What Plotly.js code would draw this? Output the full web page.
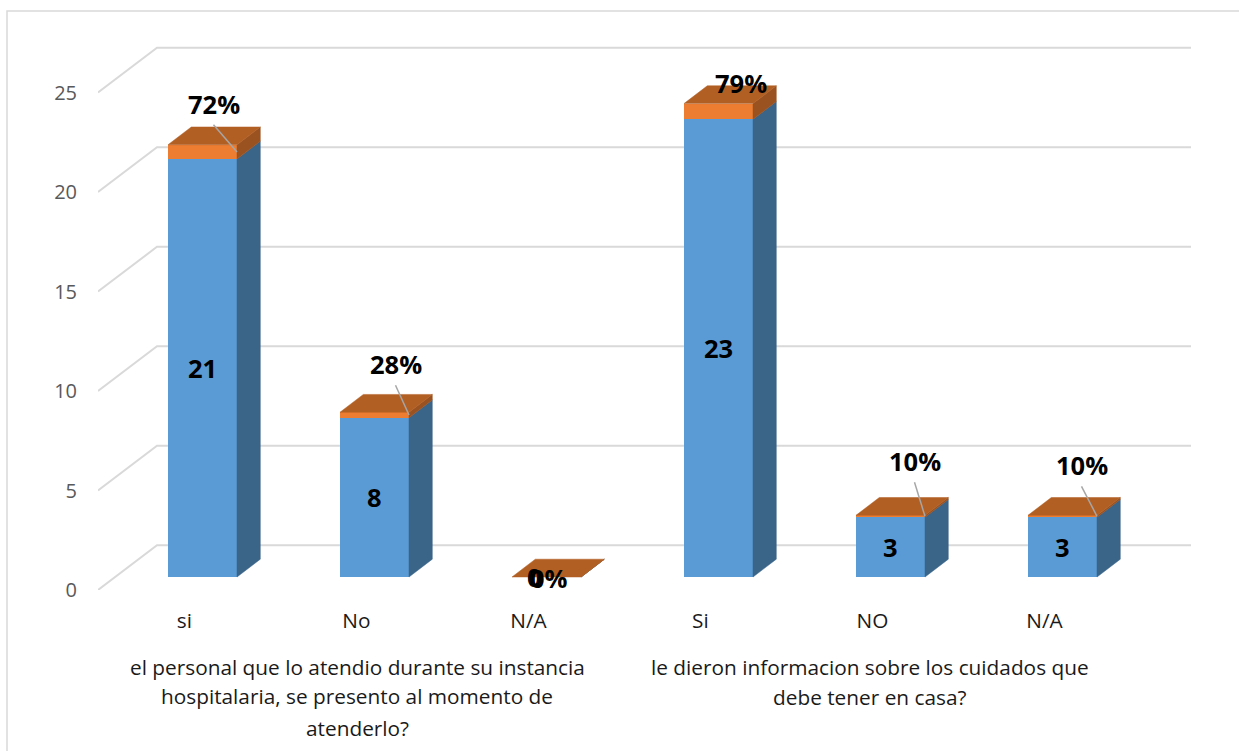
<!DOCTYPE html>
<html>
<head>
<meta charset="utf-8">
<script src="https://cdn.plot.ly/plotly-3.0.1.min.js"></script>
<style>html,body{margin:0;padding:0;background:#fff}#chart{width:1239px;height:751px}</style>
</head>
<body>
<div id="chart"></div>
<script>
// Survey answers, two questions with three options each
const categories = ["si", "No", "N/A", "Si", "NO", "N/A"];
const counts = [21, 8, 0, 23, 3, 3];
const shares = [0.72, 0.28, 0, 0.79, 0.10, 0.10];
const valueTicks = [0, 5, 10, 15, 20, 25];
const questionLines = [
  ["el personal que lo atendio durante su instancia", "hospitalaria, se presento al momento de", "atenderlo?"],
  ["le dieron informacion sobre los cuidados que", "debe tener en casa?"]
];

// Plot frame and scale
const W = 1239, H = 751;
const plotLeft = 98, plotRight = 1191, plotTop = 30, plotBottom = 590;
const firstBarCentre = 202.5, pxPerCat = 172, pxPerUnit = 19.9;
const barFloorPx = 577;
const barWidth = 69 / pxPerCat;

// Oblique projection: depth of the columns and of the floor, in axis units
const barDepthX = 23.3 / pxPerCat, barDepthY = 17.8 / pxPerUnit;
const wallDepthX = 59 / pxPerCat, wallDepthY = 44.7 / pxPerUnit;

const xLeft = (plotLeft - firstBarCentre) / pxPerCat;
const xRight = (plotRight - firstBarCentre) / pxPerCat;
const wallTop = (plotBottom - plotTop) / pxPerUnit;
const barShift = (plotBottom - barFloorPx) / pxPerUnit;

// Per-label placement of the percentage text, in pixels from the column's front top edge
const shareLabelPlacement = [
  {dx: 11, dy: 41, leader: true},
  {dx: 21, dy: 48, leader: true},
  {dx: 2, dy: -1, leader: false},
  {dx: 22, dy: 21, leader: false},
  {dx: 24, dy: 54, leader: true},
  {dx: 19, dy: 50, leader: true}
];
const countLabelShift = [0, 0, -12, 0, 0, 0];

const idx = categories.map((_, i) => i);
const halfW = barWidth / 2;

// Back wall gridlines with their slanted run towards the value axis
const wallX = [], wallY = [];
valueTicks.forEach(v => {
  wallX.push(xLeft, xLeft + wallDepthX, xRight, null);
  wallY.push(v, v + wallDepthY, v + wallDepthY, null);
});

// Closed polygons, separated by nulls, for one visible face of every column
function faces(build) {
  const xs = [], ys = [];
  idx.forEach(i => {
    build(i).forEach(p => { xs.push(p[0]); ys.push(p[1]); });
    xs.push(null); ys.push(null);
  });
  return {x: xs, y: ys};
}
const sideFace = (i, lo, hi) => {
  const r = i + halfW;
  return [[r, lo], [r + barDepthX, lo + barDepthY], [r + barDepthX, hi + barDepthY], [r, hi], [r, lo]];
};
const blueSide = faces(i => sideFace(i, 0, counts[i]));
const orangeSide = faces(i => sideFace(i, counts[i], counts[i] + shares[i]));
const topFace = faces(i => {
  const t = counts[i] + shares[i], l = i - halfW, r = i + halfW;
  return [[l, t], [r, t], [r + barDepthX, t + barDepthY], [l + barDepthX, t + barDepthY], [l, t]];
});

// Leader lines from percentage labels down to the orange segment
const leaderX = [], leaderY = [];
idx.forEach(i => {
  const p = shareLabelPlacement[i];
  if (!p.leader) return;
  const top = counts[i] + shares[i];
  leaderX.push(i + p.dx / pxPerCat, i + halfW, null);
  leaderY.push(top + (p.dy - 21) / pxPerUnit, counts[i] + shares[i] / 2, null);
});

const poly = (d, color) => ({
  type: "scatter", mode: "lines", x: d.x, y: d.y, yaxis: "y2", fill: "toself",
  fillcolor: color, line: {color: color, width: 0.5}, hoverinfo: "skip", showlegend: false
});

const traces = [
  {type: "scatter", mode: "lines", x: wallX, y: wallY, yaxis: "y",
   line: {color: "#d9d9d9", width: 2}, hoverinfo: "skip", showlegend: false},
  {type: "bar", x: idx, y: counts, yaxis: "y2", width: barWidth, name: "Cantidad",
   marker: {color: "#5b9bd5", line: {width: 0}}, showlegend: false},
  {type: "bar", x: idx, y: shares, yaxis: "y2", width: barWidth, name: "Porcentaje",
   marker: {color: "#ed7d31", line: {width: 0}}, showlegend: false},
  poly(blueSide, "#3a6488"),
  poly(orangeSide, "#9a5220"),
  poly(topFace, "#b25f23"),
  {type: "scatter", mode: "lines", x: leaderX, y: leaderY, yaxis: "y2",
   line: {color: "#a6a6a6", width: 1.5}, hoverinfo: "skip", showlegend: false}
];

const boldFont = {family: "Open Sans", size: 25.5, color: "#000", weight: 700};
const textFont = {family: "Open Sans", size: 20.8, color: "#1a1a1a"};

const annotations = [];
idx.forEach(i => {
  annotations.push({
    xref: "x", yref: "y2", x: i, y: counts[i] / 2, xshift: countLabelShift[i],
    text: String(counts[i]), showarrow: false, font: boldFont, xanchor: "center", yanchor: "middle"
  });
  const p = shareLabelPlacement[i];
  annotations.push({
    xref: "x", yref: "y2", x: i, y: counts[i] + shares[i], xshift: p.dx, yshift: p.dy,
    text: Math.round(shares[i] * 100) + "%", showarrow: false, font: boldFont, xanchor: "center", yanchor: "middle"
  });
});

// Question text sits under the option labels, centred below each group
const questionCentres = [0.9, 3.88];
const questionLinePx = [[667, 696, 728], [667, 697]];
questionLines.forEach((lines, g) => {
  lines.forEach((line, k) => {
    annotations.push({
      xref: "x", yref: "paper", x: questionCentres[g], y: 0,
      yshift: plotBottom - questionLinePx[g][k],
      text: line, showarrow: false, font: textFont, xanchor: "center", yanchor: "middle"
    });
  });
});

const pxX = p => (p - plotLeft) / (plotRight - plotLeft);
const pxY = p => (plotBottom - p) / (plotBottom - plotTop);

const layout = {
  width: W, height: H, autosize: false,
  paper_bgcolor: "#fff", plot_bgcolor: "#fff", showlegend: false,
  margin: {l: plotLeft, r: W - plotRight, t: plotTop, b: H - plotBottom, pad: 0},
  barmode: "stack",
  xaxis: {
    range: [xLeft, xRight], showgrid: false, zeroline: false, showline: false, ticks: "",
    tickmode: "array", tickvals: idx.map(i => i - 0.105), ticktext: categories,
    ticklabelstandoff: 16, tickfont: {family: "Open Sans", size: 20.8, color: "#1a1a1a"}
  },
  yaxis: {
    range: [0, wallTop], showgrid: false, zeroline: false, showline: false, ticks: "",
    tickmode: "array", tickvals: valueTicks, ticktext: valueTicks.map(String),
    ticklabelstandoff: 20, tickfont: {family: "Open Sans", size: 20, color: "#595959"}
  },
  yaxis2: {
    overlaying: "y", range: [-barShift, wallTop - barShift],
    showgrid: false, zeroline: false, showline: false, showticklabels: false, ticks: ""
  },
  annotations: annotations,
  shapes: [{
    type: "rect", xref: "paper", yref: "paper",
    x0: pxX(7), x1: pxX(W + 10), y0: pxY(H + 10), y1: pxY(11),
    line: {color: "#d9d9d9", width: 1.5}, fillcolor: "rgba(0,0,0,0)", layer: "below"
  }]
};

Plotly.newPlot("chart", traces, layout, {displayModeBar: false, staticPlot: true});
</script>
</body>
</html>
